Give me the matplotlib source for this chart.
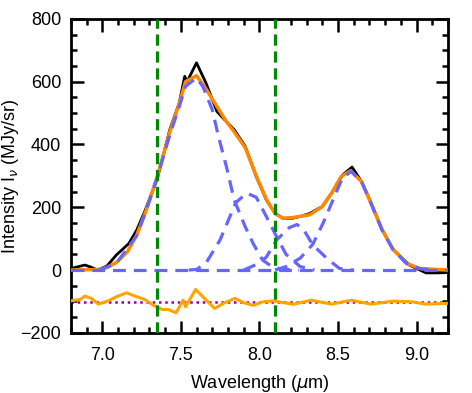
import numpy as np
import matplotlib
matplotlib.use('Agg')
import matplotlib.pyplot as plt

# observed spectrum (black)
obs_wl = [6.80, 6.89, 6.93, 6.97, 7.03, 7.09, 7.17, 7.22, 7.27, 7.35, 7.43, 7.49,
          7.525, 7.54, 7.60, 7.66, 7.73, 7.79, 7.84, 7.91, 7.98, 8.045, 8.10, 8.15,
          8.21, 8.27, 8.32, 8.38, 8.40, 8.46, 8.53, 8.59, 8.65, 8.71, 8.78, 8.85,
          8.955, 9.06, 9.13, 9.20]
obs_flux = [5, 16, 9, 0, 13, 48, 85, 128, 186, 290, 447, 532,
            617, 600, 660, 596, 505, 473, 447, 394, 298, 223, 181, 165,
            165, 172, 180, 197, 202, 245, 303, 328, 282, 215, 130, 66,
            16, -9, -9, -8]

# total fit (orange)
fit_wl = [6.80, 6.98, 7.03, 7.09, 7.16, 7.22, 7.28, 7.35, 7.43, 7.49, 7.53, 7.60,
          7.65, 7.73, 7.79, 7.84, 7.91, 7.98, 8.045, 8.10, 8.15, 8.21, 8.27, 8.32,
          8.40, 8.46, 8.52, 8.58, 8.65, 8.71, 8.78, 8.85, 8.94, 9.02, 9.20]
fit_flux = [0, 2, 8, 24, 58, 112, 191, 297, 440, 530, 600, 619,
            585, 521, 473, 440, 390, 300, 225, 180, 165, 167, 172, 176,
            202, 245, 298, 316, 282, 213, 130, 66, 21, 5, 0]

# gaussian components (blue dashed), zero outside the listed range
c1_wl = [6.98, 7.09, 7.22, 7.28, 7.35, 7.43, 7.49, 7.53, 7.60, 7.64, 7.70,
         7.74, 7.79, 7.84, 7.91, 7.96, 8.02, 8.08, 8.15, 8.25]
c1_flux = [0, 22, 110, 190, 295, 430, 520, 585, 612, 585, 511,
           425, 330, 223, 138, 85, 32, 11, 2, 0]
c2_wl = [7.55, 7.60, 7.66, 7.75, 7.85, 7.92, 7.98, 8.045, 8.11, 8.17, 8.26, 8.35]
c2_flux = [0, 2, 22, 96, 215, 245, 232, 170, 106, 50, 11, 0]
c3_wl = [7.90, 8.00, 8.045, 8.11, 8.19, 8.24, 8.28, 8.34, 8.43, 8.51, 8.60]
c3_flux = [0, 22, 42, 96, 135, 145, 130, 80, 37, 5, 0]
c4_wl = [8.10, 8.17, 8.26, 8.34, 8.405, 8.47, 8.53, 8.585, 8.65, 8.71, 8.78,
         8.85, 8.935, 9.02, 9.10]
c4_flux = [0, 11, 38, 82, 149, 225, 295, 314, 282, 213, 128, 66, 21, 5, 0]

# residual, shown shifted down
res_offset = -103
res_wl = [6.80, 6.86, 6.89, 6.93, 6.975, 7.04, 7.09, 7.155, 7.22, 7.27, 7.325, 7.38,
          7.42, 7.47, 7.515, 7.53, 7.595, 7.65, 7.715, 7.78, 7.845, 7.90, 7.96, 8.025,
          8.09, 8.215, 8.33, 8.46, 8.585, 8.71, 8.85, 8.97, 9.06, 9.19]
res_flux = [5, 9.5, 20, 13, -5.5, 5, 18, 30.5, 18, 9.5, -9, -22.5,
            -22.5, -33, 7, -14, 41.4, 13, -19, -1, 13, -1, -9, 2,
            5, -6, 7, -5.5, 7, -5.5, 4, 2, -5.5, -3]

limits = [7.35, 8.10]

plt.rcParams['font.family'] = ['Liberation Sans', 'DejaVu Sans']
plt.rcParams['mathtext.fontset'] = 'dejavusans'

fig = plt.figure(figsize=(4.72, 3.93), dpi=100)
ax = fig.add_axes([0.150, 0.153, 0.799, 0.799])

blue = '#6666FF'
ax.plot(obs_wl, obs_flux, color='black', lw=2.0, zorder=3)
ax.plot(fit_wl, fit_flux, color='#FF8800', lw=2.5, zorder=4)
ax.axhline(0, color=blue, lw=2.3, dashes=(4, 2.5), zorder=5)
for wl, fl in [(c1_wl, c1_flux), (c2_wl, c2_flux), (c3_wl, c3_flux), (c4_wl, c4_flux)]:
    ax.plot(wl, fl, color=blue, lw=2.3, dashes=(4, 2.5), zorder=5)

ax.axhline(res_offset, color='#990099', lw=1.8, ls=(0, (1, 1.5)), zorder=2)
ax.plot(res_wl, np.array(res_flux) + res_offset, color='#FFA500', lw=2.2, zorder=3)

for x in limits:
    ax.axvline(x, color='#008800', lw=2.3, dashes=(3.5, 1.8), zorder=6)

ax.set_xlim(6.8, 9.2)
ax.set_ylim(-200, 800)
ax.set_xticks([7.0, 7.5, 8.0, 8.5, 9.0])
ax.set_xticks(np.arange(6.8, 9.21, 0.1), minor=True)
ax.set_yticks([-200, 0, 200, 400, 600, 800])
ax.set_yticks(np.arange(-200, 801, 50), minor=True)
ax.set_xticklabels(['7.0', '7.5', '8.0', '8.5', '9.0'])
ax.set_yticklabels(['\u2212200', '0', '200', '400', '600', '800'])

ax.tick_params(which='both', direction='in', top=True, right=True, width=1.8,
               labelsize=13)
ax.tick_params(axis='x', which='major', length=9, pad=10)
ax.tick_params(axis='y', which='major', length=9, pad=7)
ax.tick_params(which='minor', length=4.5)
for s in ax.spines.values():
    s.set_linewidth(2)

ax.set_xlabel(r'Wavelength ($\mu$m)', fontsize=13)
ax.set_ylabel(r'Intensity I$_\nu$ (MJy/sr)', fontsize=13)
ax.xaxis.set_label_coords(0.5, -0.128)
ax.yaxis.set_label_coords(-0.133, 0.5)

fig.savefig('out.png', dpi=100)
